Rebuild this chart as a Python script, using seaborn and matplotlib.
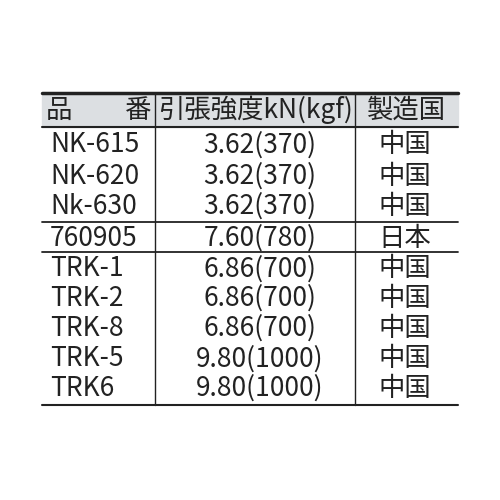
import matplotlib
matplotlib.use("Agg")
import matplotlib.pyplot as plt
import seaborn as sns

sns.set_theme(style="white")
plt.rcParams['font.family'] = ['Noto Sans CJK JP', 'DejaVu Sans']

headers = ["品\u3000\u3000番", "引張強度kN(kgf)", "製造国"]
part_numbers = ["NK-615", "NK-620", "Nk-630", "760905", "TRK-1", "TRK-2", "TRK-8", "TRK-5", "TRK6"]
strength = ["3.62(370)", "3.62(370)", "3.62(370)", "7.60(780)", "6.86(700)", "6.86(700)", "6.86(700)", "9.80(1000)", "9.80(1000)"]
origin = ["中国", "中国", "中国", "日本", "中国", "中国", "中国", "中国", "中国"]

fig = plt.figure(figsize=(5, 5), dpi=100)
ax = fig.add_axes([0, 0, 1, 1])
ax.set_xlim(0, 500); ax.set_ylim(500, 0); ax.axis('off')

L, R, c1, c2 = 42, 458, 155, 355
top, hb = 93, 127
ax.fill_between([L, R], top, hb, color='#dcdfe2', zorder=0)
ax.plot([L, R], [top, top], color='#222', lw=2.5)
ax.plot([L, R], [hb, hb], color='#222', lw=1.5)
for y in (222, 252):
    ax.plot([L, R], [y, y], color='#222', lw=1.3)
ax.plot([L, R], [405, 405], color='#222', lw=1.5)
for x in (c1, c2):
    ax.plot([x, x], [top, 405], color='#222', lw=1)

fs = 19
ax.text((L + c1) / 2, 110, headers[0], ha='center', va='center', fontsize=fs, color='#222')
ax.text((c1 + c2) / 2, 110, headers[1], ha='center', va='center', fontsize=fs, color='#222')
ax.text((c2 + R) / 2, 110, headers[2], ha='center', va='center', fontsize=fs, color='#222')

ys = [145, 176, 206, 238, 269, 298, 328, 359, 388]
for y, p, s, o in zip(ys, part_numbers, strength, origin):
    ax.text(50, y, p, ha='left', va='center', fontsize=fs, color='#222')
    ax.text(260, y, s, ha='center', va='center', fontsize=fs, color='#222')
    ax.text(405, y, o, ha='center', va='center', fontsize=fs, color='#222')

fig.savefig("out.png", dpi=100, facecolor='white')
